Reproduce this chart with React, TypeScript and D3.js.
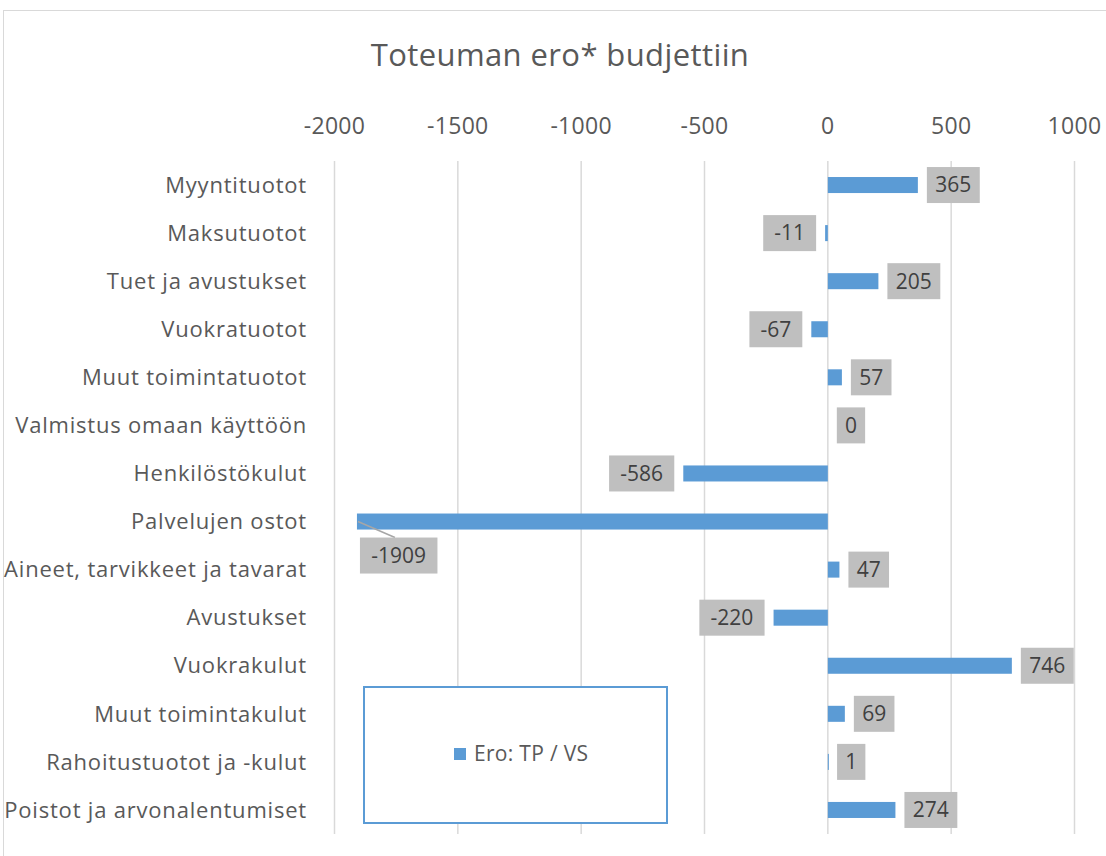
import React from 'react';
import * as d3 from 'd3';

const categories = [
  'Myyntituotot',
  'Maksutuotot',
  'Tuet ja avustukset',
  'Vuokratuotot',
  'Muut toimintatuotot',
  'Valmistus omaan käyttöön',
  'Henkilöstökulut',
  'Palvelujen ostot',
  'Aineet, tarvikkeet ja tavarat',
  'Avustukset',
  'Vuokrakulut',
  'Muut toimintakulut',
  'Rahoitustuotot ja -kulut',
  'Poistot ja arvonalentumiset',
];
const values = [365, -11, 205, -67, 57, 0, -586, -1909, 47, -220, 746, 69, 1, 274];
const xTicks = [-2000, -1500, -1000, -500, 0, 500, 1000];
const title = 'Toteuman ero* budjettiin';
const seriesName = 'Ero: TP / VS';

const W = 1106;
const H = 856;
const FONT = '"Open Sans", "Liberation Sans", sans-serif';
const BLUE = '#5b9bd5';

const x = d3.scaleLinear().domain([-2000, 1000]).range([334.5, 1074.5]);
const y = d3.scaleBand().domain(categories).range([161, 834]).paddingInner(2 / 3).paddingOuter(1 / 3);

export default function App() {
  const bw = y.bandwidth();
  const charW = 12.3;
  return (
    <svg width={W} height={H} style={{ position: 'absolute', left: 0, top: 0, background: '#fff' }} fontFamily={FONT}>
      <rect x={3.5} y={10.5} width={W + 10} height={H + 10} fill="#fff" stroke="#d9d9d9" />
      <text x={560} y={66} textAnchor="middle" fontSize={31} letterSpacing={0.4} fill="#595959">{title}</text>

      {xTicks.map(t => (
        <g key={t}>
          <line x1={x(t)} x2={x(t)} y1={161} y2={834} stroke="#d9d9d9" strokeWidth={1.5} />
          <text x={x(t)} y={134} textAnchor="middle" fontSize={23} letterSpacing={0.3} fill="#595959">{t}</text>
        </g>
      ))}

      {categories.map(c => {
        const cy = (y(c) as number) + bw / 2;
        return (
          <text key={c} x={307} y={cy} dy="0.35em" textAnchor="end" fontSize={22} letterSpacing={0.8} fill="#595959">{c}</text>
        );
      })}

      {/* legend box */}
      <rect x={364} y={687} width={303} height={136} fill="#fff" stroke={BLUE} strokeWidth={2} />
      <rect x={454} y={748} width={12} height={12} fill={BLUE} />
      <text x={474} y={754} dy="0.35em" fontSize={21} letterSpacing={0.3} fill="#595959">{seriesName}</text>

      {categories.map((c, i) => {
        const v = values[i];
        const top = y(c) as number;
        const cy = top + bw / 2;
        const x0 = x(Math.min(0, v));
        const x1 = x(Math.max(0, v));
        const label = String(v);
        const boxW = label.length * charW + 16;
        const boxH = 36;
        let bx: number;
        let by = cy - boxH / 2;
        let leader: React.ReactNode = null;
        if (v === -1909) {
          bx = x(v) + 3;
          by = cy + 16;
          leader = <line x1={x(v) + 1} y1={cy} x2={x(v) + 38} y2={by} stroke="#a6a6a6" strokeWidth={1.5} />;
        } else if (v < 0) {
          bx = x(v) - 9 - boxW;
        } else {
          bx = x(v) + 9;
        }
        return (
          <g key={c}>
            <rect x={x0} y={top} width={Math.max(x1 - x0, v === 0 ? 0 : 1)} height={bw} fill={BLUE} />
            {leader}
            <rect x={bx} y={by} width={boxW} height={boxH} fill="#bfbfbf" />
            <text x={bx + boxW / 2} y={by + boxH / 2} dy="0.35em" textAnchor="middle" fontSize={21} fill="#404040">{label}</text>
          </g>
        );
      })}
    </svg>
  );
}
